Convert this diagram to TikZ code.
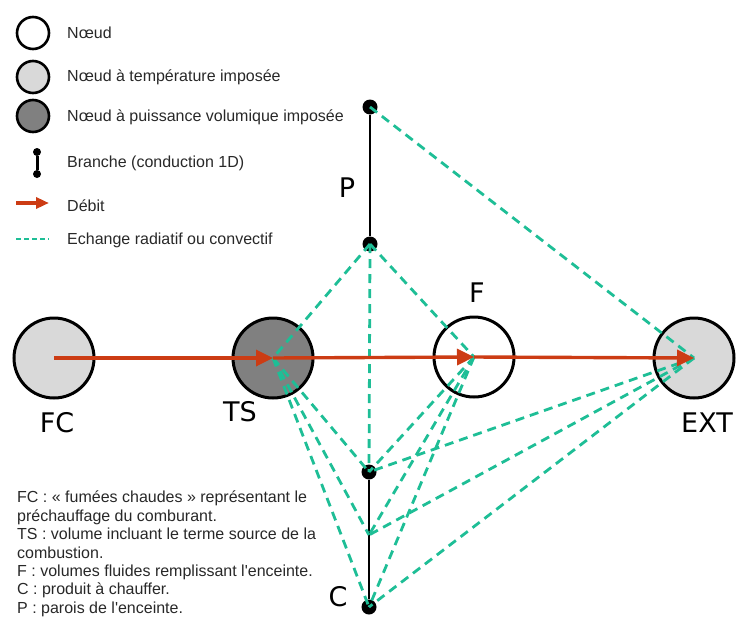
\documentclass[tikz,border=0pt]{standalone}
\usepackage{fontspec}
\setmainfont{Liberation Sans}
\newfontfamily\lblfont{DejaVu Sans}
\usetikzlibrary{arrows.meta, positioning}

\definecolor{flowred}{RGB}{204,60,20}
\definecolor{xchgteal}{RGB}{30,190,150}
\definecolor{tempgray}{RGB}{217,217,217}
\definecolor{powgray}{RGB}{128,128,128}
\definecolor{txtgray}{RGB}{40,40,40}

\begin{document}
\begin{tikzpicture}[x=1pt, y=-1pt,
    vol/.style={circle, draw=black, line width=3pt, minimum size=80pt, inner sep=0pt},
    lgvol/.style={circle, draw=black, line width=2.6pt, minimum size=32pt, inner sep=0pt},
    dot/.style={circle, fill=black, inner sep=0pt, minimum size=15pt},
    lgdot/.style={circle, fill=black, inner sep=0pt, minimum size=8pt},
    branch/.style={line width=2.6pt},
    flow/.style={draw=flowred, line width=3.4pt, -{Triangle[length=17pt,width=16pt]}},
    xchg/.style={draw=xchgteal, line width=2.8pt, dash pattern=on 9pt off 6pt},
    big/.style={font=\lblfont\fontsize{27}{30}\selectfont, inner sep=0pt},
    txt/.style={font=\fontsize{16}{18}\selectfont, text=txtgray, anchor=west, inner sep=0pt}]
\useasboundingbox (0,0) rectangle (736,616);

%% LEGEND
\node[lgvol] (lgN) at (33,33) {};
\node[lgvol, fill=tempgray] (lgT) at (33,77) {};
\node[lgvol, fill=powgray] (lgP) at (33,116) {};
\node[txt] (lgNt) at (67,33) {Nœud};
\node[txt] (lgTt) at (67,77) {Nœud à température imposée};
\node[txt] (lgPt) at (67,117) {Nœud à puissance volumique imposée};
% branche
\node[lgdot] (lgBa) at (37,152) {};
\node[lgdot] (lgBb) at (37,174) {};
\draw[branch, line width=3pt] (lgBa) -- (lgBb);
\node[txt] (lgBt) at (67,163) {Branche (conduction 1D)};
% debit
\coordinate (lgFa) at (16,203);
\coordinate (lgFb) at (49,203);
\draw[draw=flowred, line width=4pt, -{Triangle[length=13pt,width=11pt]}] (lgFa) -- (lgFb);
\node[txt] (lgFt) at (67,206) {Débit};
% echange
\coordinate (lgEa) at (16,239);
\coordinate (lgEb) at (49,239);
\draw[draw=xchgteal, line width=1.2pt, dash pattern=on 5pt off 3pt] (lgEa) -- (lgEb);
\node[txt] (lgEt) at (67,240) {Echange radiatif ou convectif};

%% VOLUMES
\node[vol, fill=tempgray] (FC) at (54,358) {};
\node[vol, fill=powgray] (TS) at (273,358) {};
\node[vol] (F) at (474,357) {};
\node[vol, fill=tempgray] (EXT) at (694,358) {};
\node[big] (FCl) at (57,423) {FC};
\node[big] (TSl) at (240,412) {TS};
\node[big] (Fl) at (477,293) {F};
\node[big] (EXTl) at (707,423) {EXT};

%% BRANCHES P and C
\node[dot] (Ptop) at (370,107) {};
\node[dot] (Pbot) at (370,244) {};
\draw[branch] (Ptop) -- (Pbot);
\node[big] (Pl) at (347,188) {P};
\node[dot] (Ctop) at (369,472) {};
\coordinate (Cmid) at (369,535);
\node[dot] (Cbot) at (369,607) {};
\draw[branch] (Ctop) -- (Cbot);
\node[big] (Cl) at (338,597) {C};

%% exchanges
\foreach \a/\b in {Ptop/EXT, Pbot/TS, Pbot/Ctop, Pbot/F,
                   TS/Ctop, TS/Cmid, TS/Cbot,
                   F/Ctop, F/Cmid, F/Cbot,
                   EXT/Ctop, EXT/Cmid, EXT/Cbot}{
  \draw[xchg] (\a.center) -- (\b.center);
}

%% flow
\draw[flow] (FC.center) -- (TS.center);
\draw[flow] (TS.center) -- (F.center);
\draw[flow] (F.center) -- (EXT.center);

%% notes
\node[font=\fontsize{16}{18.4}\selectfont, text=txtgray, align=left, anchor=north west, inner sep=0pt] (notes) at (17,491)
  {FC : « fumées chaudes » représentant le\\
   préchauffage du comburant.\\
   TS : volume incluant le terme source de la\\
   combustion.\\
   F : volumes fluides remplissant l\textquotesingle enceinte.\\
   C : produit à chauffer.\\
   P : parois de l\textquotesingle enceinte.};
\end{tikzpicture}
\end{document}
